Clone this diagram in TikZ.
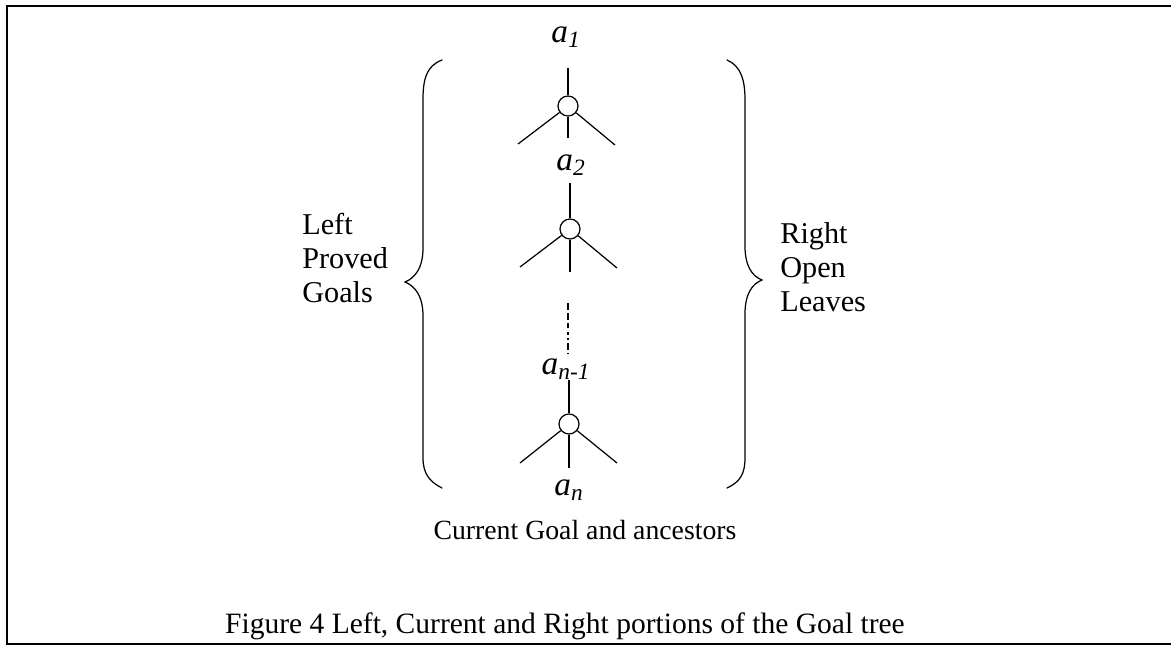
\documentclass[tikz,border=0pt]{standalone}
\usepackage{fontspec}
\setmainfont{Liberation Serif}
\usepackage{tikz}
\usetikzlibrary{positioning,calc}

\begin{document}
\begin{tikzpicture}[x=0.02cm, y=-0.02cm,
        goal/.style={circle, draw, line width=0.7pt, minimum size=0.4cm, inner sep=0pt},
        lbl/.style={font=\fontsize{19}{22}\selectfont\itshape, inner sep=1pt},
        txt/.style={font=\fontsize{15.8}{19.4}\selectfont, align=left, inner sep=0pt},
        side/.style={font=\fontsize{17.2}{19.4}\selectfont, align=left, inner sep=0pt},
        line/.style={line width=0.7pt},
        brace/.style={line width=0.7pt, line cap=round}]

        \useasboundingbox (0,0) rectangle (1171,646);
        % frame (right side cut off)
        \draw[line width=1.3pt] (1175,6) -- (7,6) -- (7,644) -- (1175,644);

        % goal circles and their labels
        \node[goal] (G1) at (568,106) {};
        \node[goal] (G2) at (570,229) {};
        \node[goal] (G3) at (569,424) {};
        \node[lbl] (A1) at (566,37) {a\textsubscript{1}};
        \node[lbl] (A2) at (571,165) {a\textsubscript{2}};
        \node[lbl] (AN1) at (566,369) {a\textsubscript{n-1}};
        \node[lbl] (AN) at (569,490) {a\textsubscript{n}};

        % free ends of the branches
        \coordinate (G1t) at (568,68);
        \coordinate (G1l) at (518,144);
        \coordinate (G1r) at (615,145);
        \coordinate (G1b) at (568,138);
        \coordinate (G2t) at (570,183);
        \coordinate (G2l) at (520,267);
        \coordinate (G2r) at (617,268);
        \coordinate (G2b) at (570,272);
        \coordinate (G3t) at (569,380);
        \coordinate (G3l) at (520,463);
        \coordinate (G3r) at (617,463);
        \coordinate (G3b) at (569,468);
        \coordinate (DT) at (568,303);
        \coordinate (DB) at (568,354);

        \draw[line] (G1t) -- (G1);
        \draw[line] (G1) -- (G1l);
        \draw[line] (G1) -- (G1r);
        \draw[line] (G1) -- (G1b);
        \draw[line] (G2t) -- (G2);
        \draw[line] (G2) -- (G2l);
        \draw[line] (G2) -- (G2r);
        \draw[line] (G2) -- (G2b);
        \draw[line width=0.9pt, dash pattern={on 0.13cm off 0.07cm on 0.13cm off 0.07cm on 0.11cm off 0.08cm on 0.05cm off 0.06cm on 0.05cm off 0.06cm}] (DT) -- (DB);
        \draw[line] (G3t) -- (G3);
        \draw[line] (G3) -- (G3l);
        \draw[line] (G3) -- (G3r);
        \draw[line] (G3) -- (G3b);

        % braces
        \draw[brace] (442,60) .. controls (426,66) and (423,80) .. (423,100)
            -- (423,248) .. controls (423,268) and (415,278) .. (405,282)
            .. controls (415,286) and (423,296) .. (423,316)
            -- (423,458) .. controls (423,474) and (430,482) .. (442,488);
        \draw[brace] (727,60) .. controls (741,66) and (745,80) .. (745,100)
            -- (745,246) .. controls (745,266) and (752,276) .. (762,280)
            .. controls (752,284) and (745,294) .. (745,314)
            -- (745,458) .. controls (745,474) and (740,482) .. (727,488);

        % side and bottom texts
        \node[side, anchor=west] (LEFT) at (302,258) {Left\\Proved\\Goals};
        \node[side, anchor=west] (RIGHT) at (780,267) {Right\\Open\\Leaves};
        \node[txt] (CUR) at (585,530) {Current Goal and ancestors};
        \node[txt, font=\fontsize{16.8}{19.4}\selectfont] (CAP) at (565,626) {Figure 4 Left, Current and Right portions of the Goal tree};

    \end{tikzpicture}
\end{document}
